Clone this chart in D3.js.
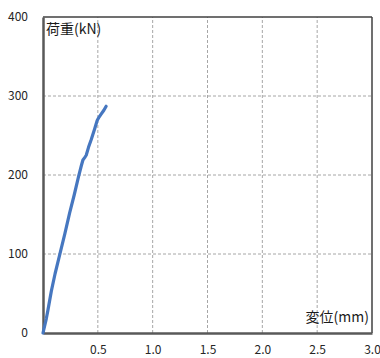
<!DOCTYPE html>
<html lang="ja">
<head>
<meta charset="UTF-8">
<title>荷重-変位</title>
<script src="https://d3js.org/d3.v7.min.js"></script>
<style>
  body { margin: 0; padding: 0; background: #fff; }
  svg { display: block; font-family: "Noto Sans CJK JP", "Noto Sans", sans-serif; }
</style>
</head>
<body>
<svg id="chart" width="380" height="358"></svg>
<script>
// displacement (mm) and load (kN)
const disp = [0, 0.03, 0.045, 0.076, 0.11, 0.152, 0.2, 0.243, 0.285, 0.324, 0.35, 0.364, 0.38, 0.394, 0.415, 0.44, 0.47, 0.494, 0.51, 0.53, 0.555, 0.576];
const load = [0, 18, 29, 53, 75, 99, 126, 152, 175, 198, 212, 219, 222, 225, 235, 245, 258, 269, 273, 277, 282, 287];
const xTicks = [0.5, 1.0, 1.5, 2.0, 2.5, 3.0];
const yTicks = [0, 100, 200, 300, 400];

const margin = { left: 43, right: 8, top: 17, bottom: 25 };
const width = 380, height = 358;

const svg = d3.select("#chart");

const x = d3.scaleLinear().domain([0, 3]).range([margin.left, width - margin.right]);
const y = d3.scaleLinear().domain([0, 400]).range([height - margin.bottom, margin.top]);

// grid
svg.append("g").selectAll("line")
   .data(xTicks.slice(0, -1))
   .enter().append("line")
   .attr("x1", d => x(d)).attr("x2", d => x(d))
   .attr("y1", y(0)).attr("y2", y(400))
   .attr("stroke", "#a6a6a6").attr("stroke-dasharray", "3,2");

svg.append("g").selectAll("line")
   .data(yTicks.slice(1, -1))
   .enter().append("line")
   .attr("x1", x(0)).attr("x2", x(3))
   .attr("y1", d => y(d)).attr("y2", d => y(d))
   .attr("stroke", "#a6a6a6").attr("stroke-dasharray", "3,2");

// frame
svg.append("line").attr("x1", x(0)).attr("x2", x(3)).attr("y1", y(400)).attr("y2", y(400))
   .attr("stroke", "#404040").attr("stroke-width", 1.5);
svg.append("line").attr("x1", x(3)).attr("x2", x(3)).attr("y1", y(0)).attr("y2", y(400))
   .attr("stroke", "#404040").attr("stroke-width", 1.5);

// axes
const xAxis = d3.axisBottom(x).tickValues(xTicks).tickSize(0).tickPadding(12)
                .tickFormat(d3.format(".1f"));
const gx = svg.append("g").attr("transform", "translate(0," + y(0) + ")").call(xAxis);
gx.select(".domain").attr("stroke", "#595959").attr("stroke-width", 2.5);
gx.selectAll("text").attr("font-size", 12).attr("fill", "#262626")
  .attr("font-family", "'Noto Sans CJK JP', sans-serif");

const yAxis = d3.axisLeft(y).tickValues(yTicks).tickSize(0).tickPadding(15);
const gy = svg.append("g").attr("transform", "translate(" + x(0) + ",0)").call(yAxis);
gy.select(".domain").attr("stroke", "#595959").attr("stroke-width", 2.5);
gy.selectAll("text").attr("font-size", 12).attr("fill", "#262626")
  .attr("font-family", "'Noto Sans CJK JP', sans-serif");

// curve
const line = d3.line().x((d, i) => x(disp[i])).y(d => y(d));
svg.append("path")
   .datum(load)
   .attr("d", line)
   .attr("fill", "none")
   .attr("stroke", "#4677c0")
   .attr("stroke-width", 3.2)
   .attr("stroke-linejoin", "round")
   .attr("stroke-linecap", "round");

// axis titles
svg.append("text").attr("x", x(0) + 3).attr("y", 34)
   .attr("font-size", 14).attr("fill", "#1a1a1a").text("荷重(kN)");
svg.append("text").attr("x", x(3) - 3).attr("y", 322)
   .attr("text-anchor", "end")
   .attr("font-size", 14).attr("fill", "#1a1a1a").text("変位(mm)");
</script>
</body>
</html>
